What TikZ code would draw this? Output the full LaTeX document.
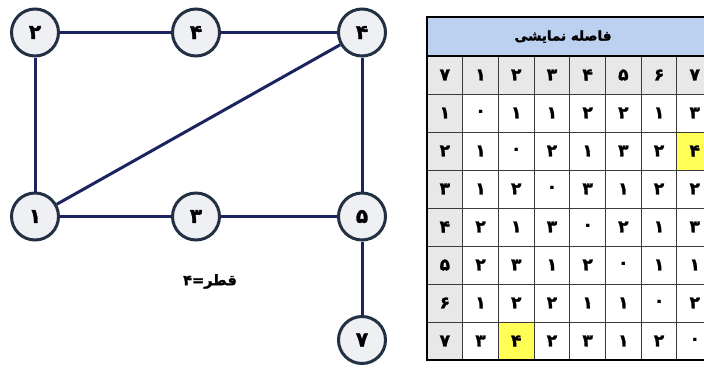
\documentclass[tikz,border=0pt]{standalone}
\usepackage{fontspec}
\newfontfamily\fa[Script=Arabic,BoldFeatures={FakeBold=1.6}]{DejaVu Sans}
\TeXXeTstate=1
\definecolor{edgeblue}{HTML}{1C2361}
\definecolor{ringdark}{HTML}{223044}
\definecolor{ringfill}{HTML}{EEF0F3}
\definecolor{headblue}{HTML}{BCD0EF}
\definecolor{headgrey}{HTML}{E8E8E8}
\definecolor{markyellow}{HTML}{FFFF55}
\definecolor{gridgrey}{HTML}{3A3A3A}
\begin{document}
\begin{tikzpicture}[x=1pt,y=-1pt,
  vertex/.style={circle,draw=ringdark,fill=ringfill,line width=3pt,
    minimum size=47pt,inner sep=0pt,font=\fa\bfseries\fontsize{20}{20}\selectfont},
  link/.style={draw=edgeblue,line width=3pt},
  cell/.style={inner sep=0pt,font=\fa\bfseries\fontsize{17}{17}\selectfont},
  titletext/.style={inner sep=0pt,font=\fa\bfseries\fontsize{13.5}{13.5}\selectfont},
  caption/.style={inner sep=0pt,font=\fa\bfseries\fontsize{14.5}{14.5}\selectfont}]
\useasboundingbox (0,0) rectangle (704,368);
\clip (0,0) rectangle (704,368);

% ---- graph ----
\node[vertex] (n2)  at (35,32.5)   {\beginR ۲\endR};
\node[vertex] (n4a) at (196,32.5)  {\beginR ۴\endR};
\node[vertex] (n4b) at (362,32.5)  {\beginR ۴\endR};
\node[vertex] (n1)  at (35,216.5)  {\beginR ۱\endR};
\node[vertex] (n3)  at (196,216.5) {\beginR ۳\endR};
\node[vertex] (n5)  at (362,216.5) {\beginR ۵\endR};
\node[vertex] (n7)  at (362,340)   {\beginR ۷\endR};
\path[link] (n2) -- (n4a);
\path[link] (n4a) -- (n4b);
\path[link] (n2) -- (n1);
\path[link] (n1) -- (n4b);
\path[link] (n4b) -- (n5);
\path[link] (n1) -- (n3);
\path[link] (n3) -- (n5);
\path[link] (n5) -- (n7);
\node[caption] (diam) at (210,281.5) {\beginR قطر=۴\endR};

% ---- distance table ----
\def\tx{427}\def\cw{35.7}\def\ty{56}\def\rh{38}
% header band
\fill[headblue] (\tx,17) rectangle (\tx+8*\cw,\ty);
% grey header row and header column
\fill[headgrey] (\tx,\ty) rectangle (\tx+8*\cw,\ty+\rh);
\fill[headgrey] (\tx,\ty+\rh) rectangle (\tx+\cw,\ty+8*\rh);
% highlighted cells
\fill[markyellow] (\tx+7*\cw,\ty+2*\rh) rectangle (\tx+8*\cw,\ty+3*\rh);
\fill[markyellow] (\tx+2*\cw,\ty+7*\rh) rectangle (\tx+3*\cw,\ty+8*\rh);
% grid lines
\foreach \k in {1,...,7}
  \draw[gridgrey,line width=1pt] (\tx,\ty+\k*\rh) -- (\tx+8*\cw,\ty+\k*\rh);
\foreach \k in {1,...,7}
  \draw[gridgrey,line width=1pt] (\tx+\k*\cw,\ty) -- (\tx+\k*\cw,\ty+8*\rh);
\draw[black,line width=1.3pt] (\tx,\ty) -- (\tx+8*\cw,\ty);
% outer frame
\draw[black,line width=2.2pt] (\tx,17) rectangle (\tx+8*\cw,\ty+8*\rh);

\node[titletext] (title) at (563,36.5) {\beginR فاصله نمایشی\endR};
% column headings
\foreach \v [count=\i from 0] in {۷,۱,۲,۳,۴,۵,۶,۷}
  \node[cell] (h-\i) at (\tx+\i*\cw+0.5*\cw,\ty+0.5*\rh) {\beginR\v\endR};
% rows: heading followed by distances
\foreach \row [count=\j] in {
  {۱,۰,۱,۱,۲,۲,۱,۳},
  {۲,۱,۰,۲,۱,۳,۲,۴},
  {۳,۱,۲,۰,۳,۱,۲,۲},
  {۴,۲,۱,۳,۰,۲,۱,۳},
  {۵,۲,۳,۱,۲,۰,۱,۱},
  {۶,۱,۲,۲,۱,۱,۰,۲},
  {۷,۳,۴,۲,۳,۱,۲,۰}}
  \foreach \v [count=\i from 0] in \row
    \node[cell] (c-\j-\i) at (\tx+\i*\cw+0.5*\cw,\ty+\j*\rh+0.5*\rh) {\beginR\v\endR};
\end{tikzpicture}
\end{document}
